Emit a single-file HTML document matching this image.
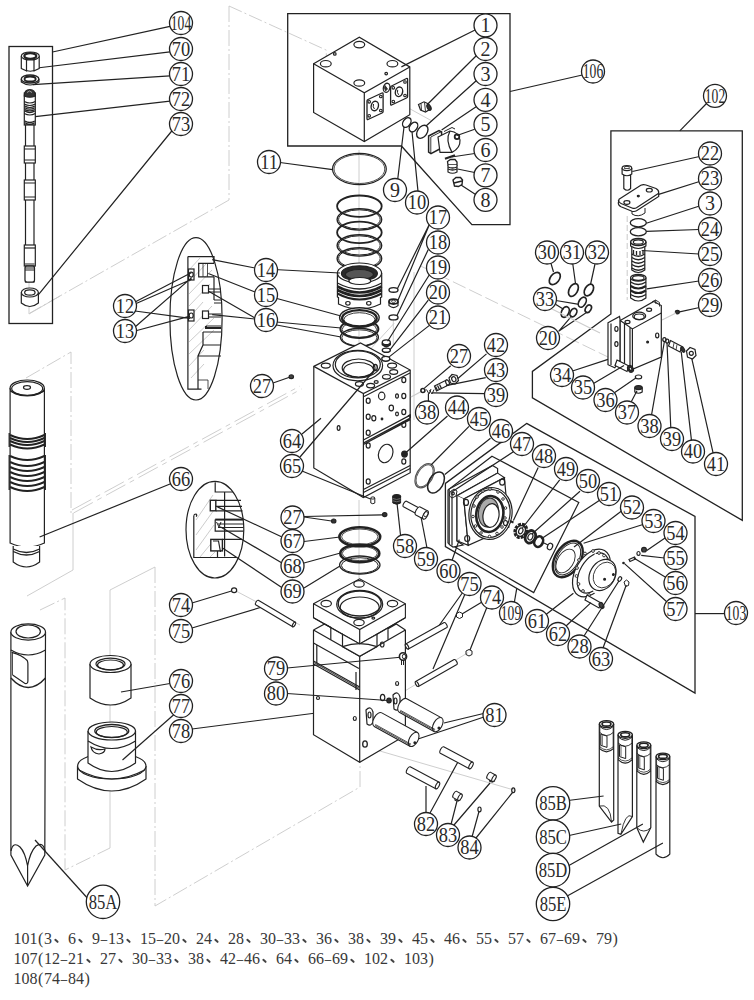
<!DOCTYPE html>
<html><head><meta charset="utf-8"><style>
html,body{margin:0;padding:0;background:#fff;width:754px;height:1000px;overflow:hidden}
svg{position:absolute;left:0;top:0}
#w{position:absolute;left:0;top:0;width:754px;height:1000px}
.t{position:absolute;left:13.5px;font-family:"Liberation Serif",serif;font-size:16px;color:#383838;white-space:pre;line-height:20px}
.c{display:inline-block;width:16px;height:10px;position:relative}
.h{display:inline-block;width:8px;text-align:center;font-style:normal;transform:scaleX(0.8)}
.p{display:inline-block;width:6.5px;text-align:center;font-style:normal}
.c:after{content:"";position:absolute;left:2.2px;top:6.3px;width:5.4px;height:1.7px;border-radius:1px;background:#444;transform:rotate(42deg)}
</style></head><body><div id="w">
<svg width="754" height="1000" viewBox="0 0 754 1000">
<g fill="none" stroke="#c8c8c8" stroke-width="0.9">
<!-- top-left construction -->
<path d="M229,6 L326.3,50.1 L326.3,59" stroke-dasharray="14,3,2,3"/>
<path d="M394,100 L432,121"/>
<path d="M229,6 L229,200" stroke-dasharray="16,3,2,3"/>
<path d="M229,200 L30,313" stroke-dasharray="16,3,2,3"/>
<path d="M29,282 L29,314 L60,296"/>
<!-- piston outline -->
<path d="M26,378 L71,352 L71,513" stroke-dasharray="16,3,2,3"/>
<path d="M73,513 L73,570 L27,596" />
<path d="M72,510 L300,386" stroke-dasharray="22,5,5,5"/>
<path d="M73.5,513 L301.5,389" stroke-dasharray="22,5,5,5"/>
<!-- chisel outlines -->
<path d="M40,610 L65,598 L65,870 L110,848" stroke-dasharray="16,3,2,3"/>
<path d="M110,848 L110,590 L155,567" />
<path d="M155,567 L155,906 L360,787 L360,741" stroke-dasharray="16,3,2,3"/>
<!-- central axis -->
<path d="M359,150 L359,345"/>
<path d="M359,500 L359,580"/>
<path d="M405,690.9 L468.2,652.5"/>
<path d="M366.8,747.2 L515.6,790.5"/>
<path d="M236,591 L300,625"/>
<path d="M420.6,266 L608,357" stroke-dasharray="14,4"/>
<path d="M414,272 L414,420"/>
<path d="M393.3,320 L393.3,345"/>
<path d="M370,349.6 L394.2,323.2"/>

</g>
<g fill="none" stroke="#222" stroke-width="1.2">
<!-- ===== Box 104 ===== -->
<rect x="9" y="46.5" width="43.5" height="277" stroke-width="1.3"/>
<path d="M52.5,52 L170,26.4 M33,68.5 L170,51.9 M33,84.7 L170,75.8 M33,116.8 L170,101.1 M34.4,299.6 L173,129.5"/>
<!-- nut 70 -->
<path d="M21.3,56 L21.3,68.5 Q30.3,74 39.2,68.5 L39.2,56" fill="#fff"/>
<ellipse cx="30.3" cy="56" rx="9" ry="4" fill="#fff"/>
<ellipse cx="30.3" cy="56" rx="6" ry="2.8" stroke-width="2.2"/>
<path d="M26.5,59.5 L26.5,71.5 M34,59.5 L34,71.5"/>
<!-- washer 71 -->
<path d="M21.3,79 L21.3,82 Q30.1,88 38.9,82 L38.9,79" fill="#fff"/>
<ellipse cx="30.1" cy="79" rx="8.8" ry="4" fill="#fff" stroke-width="1.4"/>
<ellipse cx="30.1" cy="79" rx="5.6" ry="2.5" stroke-width="1.8"/>
<!-- rod 72 -->
<rect x="24.3" y="93" width="11" height="32" fill="#fff"/>
<path d="M24.3,96 Q24.3,89.5 29.8,89.5 Q35.3,89.5 35.3,96 Q29.8,98.5 24.3,96 Z" fill="#333"/>
<path d="M27,92.5 L29.5,91 L32,92.5" stroke="#bbb" stroke-width="0.8"/>
<path d="M24.3,101.5 Q29.8,104.5 35.3,101.5 M24.3,104 Q29.8,107 35.3,104"/>
<path d="M24.8,106 Q29.8,109 34.8,106 M24.8,107.7 Q29.8,110.7 34.8,107.7 M24.8,109.4 Q29.8,112.4 34.8,109.4 M24.8,111.1 Q29.8,114.1 34.8,111.1" stroke-width="1.2"/>
<path d="M24.3,113.5 Q29.8,116.5 35.3,113.5"/>
<path d="M24.8,121 Q29.8,124 34.8,121 M24.8,122.8 Q29.8,125.8 34.8,122.8" stroke-width="1.3"/>
<rect x="25.5" y="125" width="8.5" height="157" fill="#fff"/>
<rect x="24.3" y="146" width="11" height="17" fill="#fff"/>
<path d="M24.3,149 h11 M24.3,160 h11"/>
<rect x="24.3" y="180" width="11" height="20" fill="#fff"/>
<path d="M24.3,183 h11 M24.3,197 h11"/>
<rect x="24.3" y="245" width="11" height="21" fill="#fff"/>
<path d="M24.3,248 h11"/>
<rect x="25" y="266" width="9.5" height="16" rx="2" fill="#fff"/>
<path d="M25,264 h9.5 M25,266 h9.5 M25,268 h9.5 M25,270 h9.5" stroke-width="1.2"/>
<!-- bushing 73 -->
<path d="M21.3,292.5 L21.3,303 Q29.85,310 38.4,303 L38.4,292.5" fill="#fff"/>
<ellipse cx="29.85" cy="292.5" rx="8.5" ry="4.5" fill="#fff"/>
<ellipse cx="29.85" cy="292.5" rx="5.2" ry="2.6"/>
<!-- ===== Box 106 ===== -->
<path d="M287.7,13.6 L510,13.6 L510,224.6 L471.9,224.6 L401.4,146 L287.7,146 Z" stroke-width="1.3"/>
<path d="M510,91.5 L582.3,75"/>
<!-- block 1 -->
<path d="M313.6,63.7 L359.3,37.2 L409.8,66.9 L409.8,114.7 L364.3,141.6 L313.6,112.4 Z" fill="#fff"/>
<path d="M313.6,63.7 L364.3,92.7 L409.8,66.9 M364.3,92.7 L364.3,141.6"/>
<ellipse cx="359.3" cy="44.6" rx="5.4" ry="3.2"/>
<ellipse cx="325.8" cy="63.7" rx="5.4" ry="3.2"/>
<ellipse cx="392.4" cy="63.7" rx="5.4" ry="3.2"/>
<ellipse cx="359.3" cy="83" rx="5.4" ry="3.2"/>
<circle cx="334.8" cy="53.9" r="1.3"/>
<circle cx="386.2" cy="73.6" r="1.3"/>
<path d="M368,99.5 L382,93 Q383.1,92.5 383.1,94 L383.1,111.5 Q383.1,112.5 382,113 L368,119.5 Q367,120 367,118.5 L367,101 Q367,100 368,99.5 Z" stroke-width="1.3"/>
<ellipse cx="374.8" cy="106" rx="3.6" ry="4.8" transform="rotate(15 374.8 106)" stroke-width="1.4"/>
<path d="M373.5,104 Q372.5,107 374.5,109" stroke-width="1"/>
<circle cx="369.2" cy="101.8" r="1.3" stroke-width="1.1"/><circle cx="380.8" cy="96.5" r="1.3" stroke-width="1.1"/><circle cx="369.2" cy="115.8" r="1.3" stroke-width="1.1"/><circle cx="380.8" cy="110.5" r="1.3" stroke-width="1.1"/>
<path d="M391.6,86 L406.5,78.5 Q407.6,78 407.6,79.5 L407.6,96.5 Q407.6,97.5 406.5,98 L391.6,105 Q390.6,105.5 390.6,104 L390.6,87.5 Q390.6,86.5 391.6,86 Z" stroke-width="1.3"/>
<ellipse cx="399" cy="91.8" rx="3.6" ry="4.8" transform="rotate(15 399 91.8)" stroke-width="1.4"/>
<path d="M397.7,89.8 Q396.7,92.8 398.7,94.8" stroke-width="1"/>
<circle cx="393.3" cy="87.8" r="1.3" stroke-width="1.1"/><circle cx="405" cy="82" r="1.3" stroke-width="1.1"/><circle cx="393.3" cy="101.5" r="1.3" stroke-width="1.1"/><circle cx="405" cy="95.5" r="1.3" stroke-width="1.1"/>
<ellipse cx="386.6" cy="87.8" rx="3.2" ry="4.6" transform="rotate(15 386.6 87.8)" stroke-width="1.3"/>
<path d="M385,85.5 Q383.8,88 385.5,91 L387.5,89 Z" fill="#333" stroke-width="0.8"/>
<path d="M401.4,66.9 L475,30"/>
<!-- part 2 plug -->
<path d="M418.5,104.5 L424,101.8 L428.5,104 L430.5,109 L425.5,112 L420.5,110 Z" fill="#fff" stroke-width="1.2"/>
<path d="M421,103.5 L421.5,110.5 M424.5,102.3 L425.5,111.5 M427.5,103.5 L428.5,110" stroke-width="0.9"/>
<ellipse cx="429" cy="107.3" rx="1.8" ry="3.2" transform="rotate(-25 429 107.3)" fill="#333"/>
<path d="M427.3,104.5 L477,55"/>
<!-- orings 9,10,3 -->
<ellipse cx="406.8" cy="122.5" rx="3.6" ry="5.3" transform="rotate(35 406.8 122.5)" stroke-width="1.4"/>
<ellipse cx="413.5" cy="127" rx="3.6" ry="5.3" transform="rotate(35 413.5 127)" stroke-width="1.4"/>
<ellipse cx="422.3" cy="131.8" rx="4.8" ry="7.2" transform="rotate(35 422.3 131.8)" stroke-width="1.4"/>
<path d="M397.6,180.3 L404,127 M418,191.4 L412,131.5 M426,126 L476.5,80.5"/>
<!-- part 4 valve -->
<path d="M428.6,136 L439,130.5 L441.6,132 L441.6,148 L431,153.6 L428.6,152 Z" fill="#fff" stroke-width="1.5"/>
<path d="M430.8,137 L430.8,153 M430.8,137 L441.6,131.5" stroke-width="0.9"/>
<path d="M438,137 L450,131 Q459,132 460,140 Q460.5,148 452,152.4 L440,152.4 Z" fill="#fff"/>
<path d="M450,131 Q445,140 452,152.4"/>
<path d="M444,131.5 L452,127.5 L455,129" stroke-width="1"/>
<circle cx="457" cy="136.8" r="2.3" fill="#fff" stroke-width="1.8"/>
<path d="M441.6,130 L476.5,106.5 M457,135.5 L474.7,129.2"/>
<!-- 6,7,8 -->
<path d="M445,158.8 L455,155.2" stroke-width="2.2"/>
<path d="M447.5,161.5 L450.5,159.5 L455,159.5 L457,162 L457,165 L448,165 Z" fill="#fff" stroke-width="1.3"/>
<path d="M448,165 L448,172 Q452.5,174.5 457,172 L457,165" fill="#fff" stroke-width="1.2"/>
<path d="M448,167 Q452.5,169 457,167 M448,169 Q452.5,171 457,169" stroke-width="1.3"/>
<path d="M453,180 L456,177.5 L460.5,177.5 L462.5,180 L462,184.5 L458.5,186.5 L454.5,186 Z" fill="#fff" stroke-width="1.4"/>
<path d="M454,183 L462,181" stroke-width="1.6"/>
<path d="M451.5,157 L474.7,153.5 M457.5,169 L474.7,172.5 M461,185 L475.6,194.5"/>
<!-- ===== central column ===== -->
<ellipse cx="359.4" cy="169" rx="26.9" ry="15.7" stroke-width="1.2"/>
<ellipse cx="359.4" cy="169" rx="25.4" ry="14.5" stroke-width="0.8"/>
<path d="M332.6,169.6 L280,162.5"/>
<!-- ring stack -->
<ellipse cx="359.4" cy="206.2" rx="22.3" ry="10.7" stroke-width="1.8"/>
<ellipse cx="359.4" cy="219.4" rx="22.3" ry="10.7" stroke-width="1.4"/>
<ellipse cx="359.4" cy="219.4" rx="20.8" ry="9.6" stroke-width="1"/>
<ellipse cx="359.4" cy="232.4" rx="22.3" ry="10.7" stroke-width="1.8"/>
<ellipse cx="359.4" cy="245.4" rx="22.3" ry="10.7" stroke-width="1.4"/>
<ellipse cx="359.4" cy="245.4" rx="20.8" ry="9.6" stroke-width="1"/>
<ellipse cx="359.4" cy="258.4" rx="22.3" ry="10.7" stroke-width="1.4"/>
<ellipse cx="359.4" cy="258.4" rx="20.8" ry="9.6" stroke-width="1"/>
<!-- seal pack 14 -->
<path d="M337.4,273 L337.4,297 Q359.5,309 381.7,297 L381.7,273" fill="#fff"/>
<path d="M338.5,297 L338.5,304 Q359.5,314 380.5,304 L380.5,297" fill="#fff"/>
<ellipse cx="359.5" cy="273" rx="22.1" ry="10" fill="#fff" stroke-width="1.2"/>
<ellipse cx="359.4" cy="273.4" rx="18" ry="7.6" fill="#2a2a2a" stroke-width="1.2"/>
<ellipse cx="359.4" cy="274.5" rx="14" ry="5" fill="#555" stroke="#222"/>
<ellipse cx="359.8" cy="281" rx="11" ry="3.5" fill="#fff"/>
<path d="M337.4,283 Q359.5,295 381.7,283" stroke-width="1.4"/>
<path d="M337.4,286.5 Q359.5,298.5 381.7,286.5" stroke-width="2.6"/>
<path d="M337.4,290 Q359.5,302 381.7,290" stroke-width="2.6"/>
<path d="M337.4,293.5 Q359.5,305.5 381.7,293.5" stroke-width="2"/>
<ellipse cx="347.9" cy="303.3" rx="2.2" ry="1.8"/>
<ellipse cx="368.8" cy="303.3" rx="2.2" ry="1.8"/>
<!-- rings 15,16 -->
<ellipse cx="359.4" cy="337.3" rx="19" ry="9" stroke-width="1.4"/>
<ellipse cx="359.4" cy="337.8" rx="17.6" ry="8" stroke-width="0.9"/>
<ellipse cx="359.4" cy="329" rx="19" ry="9" stroke-width="2"/>
<ellipse cx="359.4" cy="329.5" rx="17.2" ry="7.8" stroke-width="0.9"/>
<ellipse cx="359.4" cy="317.5" rx="19.8" ry="9.8" stroke-width="1.4" fill="#fff"/>
<ellipse cx="359.4" cy="318.3" rx="17.3" ry="8.2" stroke-width="2.4"/>
<ellipse cx="359.4" cy="319.5" rx="15.5" ry="6.8" stroke-width="0.9"/>
<!-- small 17,18,19 -->
<ellipse cx="393.5" cy="289.9" rx="4.5" ry="2.3" stroke-width="1.4"/>
<path d="M389,301.6 L389,305.6 Q393.5,309.5 398,305.6 L398,301.6" fill="#fff"/>
<ellipse cx="393.5" cy="301.6" rx="4.5" ry="2.4" fill="#fff" stroke-width="1.8"/>
<ellipse cx="393.5" cy="301.3" rx="2.2" ry="1.1" fill="#fff" stroke-width="0.8"/>
<ellipse cx="393.5" cy="317.4" rx="4.5" ry="2.5" stroke-width="1.4"/>
<!-- 20,21 small on top of block -->
<path d="M382.3,342.6 L382.3,344.8 Q386.3,348.5 390.3,344.8 L390.3,342.6" fill="#333" stroke-width="1.4"/>
<ellipse cx="386.3" cy="342.3" rx="4" ry="2.4" fill="#fff" stroke-width="1.3"/>
<ellipse cx="386.3" cy="350.2" rx="4" ry="2.1" stroke-width="1.4"/>
<!-- leaders 17-21 -->
<path d="M429.4,224.2 L397.5,288.6 M429.4,224.5 L398,300.3 M428.3,249.5 L397,315.6 M429.4,274.8 L387.6,341.2 M428.3,300.1 L389.9,349.8 M429.4,325.4 L388.5,357.4"/>
<!-- leaders 14,15,16 to parts -->
<path d="M255,268 L212.2,259.7 M255,268.5 L340,273 M255,292 L207.7,273.2 M255,292.5 L341,316 M255,318 L208.6,291.2 M255,319 L212.2,314.6 M255,320 L341,328 M255,321 L341,337"/>
<!-- ===== block 64 ===== -->
<path d="M313.8,366.4 L360.5,343 L410.2,370 L410.2,472.7 L363.4,497.5 L313.8,467.9 Z" fill="#fff"/>
<path d="M313.8,366.4 L363.4,393.6 L410.2,370 M363.4,393.6 L363.4,497.5 M364,396.5 L410,373"/>
<ellipse cx="357.8" cy="365.6" rx="24.8" ry="15.2" stroke-width="1.2"/>
<ellipse cx="357.8" cy="364.5" rx="22.5" ry="13.5"/>
<ellipse cx="358.6" cy="368" rx="16.4" ry="9"/>
<ellipse cx="358.6" cy="370" rx="15" ry="7.5"/>
<ellipse cx="325.8" cy="365.6" rx="4.5" ry="2.5"/>
<ellipse cx="392.1" cy="365.6" rx="4.5" ry="2.5"/>
<ellipse cx="393.7" cy="372" rx="4" ry="2.3"/>
<ellipse cx="386.5" cy="376.8" rx="4" ry="2.3"/>
<ellipse cx="370.6" cy="385.6" rx="4" ry="2.3"/>
<ellipse cx="359.4" cy="384" rx="4" ry="2.3"/>
<ellipse cx="376.2" cy="382" rx="2" ry="1.3"/>
<ellipse cx="375.3" cy="367.5" rx="2" ry="3" stroke-width="1.4"/>
<!-- right face -->
<path d="M363.4,440 L410.2,415.1 M363.4,443 L410.2,418.1 M363.4,444.5 L410.2,419.6" />
<path d="M363.4,489.5 L410.2,465.5 M363.4,492.5 L410.2,468.5" />
<path d="M408,416 L410.2,415.1 L410.2,418 " stroke-width="1.6"/>
<ellipse cx="368.2" cy="400.8" rx="2" ry="2.6"/>
<ellipse cx="381.7" cy="396" rx="3.2" ry="3.8"/>
<ellipse cx="391.3" cy="408" rx="2.2" ry="2.8"/>
<ellipse cx="368.2" cy="416.7" rx="2" ry="2.6"/>
<ellipse cx="373.8" cy="418.3" rx="2" ry="2.6"/>
<ellipse cx="368.2" cy="432.7" rx="2" ry="2.6"/>
<ellipse cx="403.8" cy="380" rx="2" ry="2.6"/>
<ellipse cx="397" cy="396" rx="1.4" ry="2.2"/>
<ellipse cx="403.8" cy="396" rx="2" ry="2.6"/>
<ellipse cx="397" cy="414" rx="1.4" ry="1.8"/>
<ellipse cx="403.8" cy="412" rx="2" ry="2.6"/>
<ellipse cx="403.8" cy="424.7" rx="2" ry="2.6"/>
<ellipse cx="368.2" cy="445.5" rx="2" ry="2.6"/>
<ellipse cx="368.2" cy="481.5" rx="2" ry="2.6"/>
<ellipse cx="403.8" cy="461.5" rx="2" ry="2.6"/>
<ellipse cx="385.7" cy="453.5" rx="7" ry="9.5" transform="rotate(20 385.7 453.5)"/>
<circle cx="382" cy="419" r="0.8" fill="#222"/>
<ellipse cx="338.6" cy="428" rx="1.4" ry="2.4"/>
<!-- leaders 64,65 -->
<path d="M321,418.3 L302,434 M375.3,369 L300,457 M302,471 L370.5,499"/>
<!-- 27 (left) -->
<path d="M273,383 L289.5,377.3"/>
<ellipse cx="291.3" cy="376.8" rx="2.2" ry="1.9" fill="#444"/>
<!-- ===== detail ellipse 1 (12-16) ===== -->
<ellipse cx="196" cy="318.8" rx="26.1" ry="81.2" stroke-width="1.2"/>
<g stroke-width="0.6" stroke="#aaa">
<path d="M189,270 L200,258 M189,282 L206,264 M189,294 L212,270 M189,306 L210,284 M189,318 L203,302 M189,330 L212,306 M189,342 L214,318 M189,354 L214,330 M189,366 L204,350 M191,378 L204,364"/>
</g>
<path d="M187.9,256.6 L214,256.6 L214,263.3 M187.9,256.6 L187.9,389.2 L201.5,389.2 M214,263.3 L198.7,263.3 L198.7,276.8 L214,276.8"/>
<path d="M203,263.3 L203,276.8 M207.5,263.3 L207.5,276.8" stroke-width="0.8"/>
<rect x="188.5" y="269" width="5.5" height="11" fill="#fff" stroke-width="1.2"/>
<ellipse cx="191.2" cy="274.5" rx="2" ry="2.5"/>
<rect x="188.5" y="310" width="5.5" height="11" fill="#fff" stroke-width="1.2"/>
<ellipse cx="191.2" cy="315.5" rx="2" ry="2.5"/>
<rect x="202.5" y="285.5" width="6" height="7.5" fill="#fff" stroke-width="1.2"/>
<rect x="202.5" y="311" width="6" height="7.5" fill="#fff" stroke-width="1.2"/>
<path d="M214,276.8 L214,300 M208.5,289 L221,289 M208.5,292 L221,292 M208.5,314 L221,314 M208.5,317 L221,317 M214,300 L221,300 M214,303 L221,303 M206,326 L221,326 M203,332 L221,332 M203,332 L203,345 L198,356 L198,389 M203,345 L221,345 M198,356 L221,356"/>
<path d="M206,326 L206,328 L221,328" stroke-width="2"/>
<path d="M198,380 L208,380 L208,389" stroke-width="0.8"/>
<!-- leaders 12,13 -->
<path d="M135,302 L191.7,272.5 M135,304 L191.7,279.3 M135,311 L190,318.4 M135,327 L191.7,277.6 M135,331 L188.3,316.7"/>
<!-- ===== detail ellipse 2 (67-69) ===== -->
<ellipse cx="214.9" cy="529.7" rx="28.9" ry="48.3" stroke-width="1.2"/>
<g stroke-width="0.6" stroke="#aaa">
<path d="M196,520 L213,495 M196,535 L214,510 M196,550 L214,525 M200,557 L214,540 M210,557 L215,552"/>
</g>
<path d="M215.2,482.2 L215.2,492 L232.8,492 M224.6,492.6 L224.6,556.4 M193.8,515.7 L193.8,557.5 L236.1,557.5"/>
<path d="M193.8,515.7 Q194,514 196,514 Q197.5,515 196,516.5"/>
<rect x="210.3" y="500.3" width="5.5" height="10.5" fill="#fff" stroke-width="1.4"/>
<path d="M215.8,500.3 L241,500.3 M215.8,506.4 L242,506.4 M215.8,510.8 L242.5,510.8" />
<path d="M215.2,519.6 L243.3,519.6" stroke-width="2"/>
<path d="M215.2,519.6 L215.2,531.1 L243.5,531.1 M218,524 L243.5,524 M218,527.5 L243.5,527.5"/>
<path d="M216.5,522 L219,527 L221,522" stroke-width="1"/>
<rect x="210.8" y="539.4" width="11.6" height="11.5" stroke-width="1.4" fill="#fff"/>
<path d="M213,541 L218.5,541 L220.5,552 M222.4,539.4 L242,539.4 M217.5,551 L217.5,557" />
<path d="M217.4,506.9 L282,537 M220.2,526.7 L282,563 M222.9,548.2 L282.5,588"/>
<!-- ===== piston 66 ===== -->
<path d="M10.1,388 L10.1,543 Q27.2,551 44.4,543 L44.4,388" fill="#fff"/>
<ellipse cx="27.2" cy="388" rx="17.1" ry="8" fill="#fff"/>
<ellipse cx="27.2" cy="388.5" rx="15.5" ry="6.8"/>
<path d="M10.1,391 Q27.2,400 44.4,391"/>
<ellipse cx="27" cy="387.5" rx="3.5" ry="1.8"/>
<g stroke-width="2">
<path d="M10.1,435 Q27.2,443 44.4,435 M10.1,438 Q27.2,446 44.4,438 M10.1,441 Q27.2,449 44.4,441 M10.1,444.5 Q27.2,452.5 44.4,444.5"/>
<path d="M10.1,456 Q27.2,464 44.4,456 M10.1,462 Q27.2,470 44.4,462 M10.1,467 Q27.2,475 44.4,467 M10.1,472 Q27.2,480 44.4,472 M10.1,477 Q27.2,485 44.4,477 M10.1,482 Q27.2,490 44.4,482 M10.1,487 Q27.2,495 44.4,487"/>
</g>
<path d="M9.2,433 L9.2,447 M45.3,433 L45.3,447 M9.2,455 L9.2,490 M45.3,455 L45.3,490" stroke-width="1.3"/>
<path d="M13.2,546 L13.2,562 Q26.4,572 39.6,562 L39.6,546" fill="#fff"/>
<path d="M13.2,549 Q26.4,556 39.6,549 M13.2,551.5 Q26.4,558.5 39.6,551.5" stroke-width="1.4"/>
<path d="M39.6,537 L170,484"/>
<!-- ===== chisel 85A ===== -->
<path d="M10.9,632 L10.9,855 L27.6,886 L44.8,855 L45.5,632" fill="#fff"/>
<ellipse cx="28.2" cy="632" rx="17.3" ry="8.1" fill="#fff" stroke-width="1.2"/>
<ellipse cx="28.2" cy="631.5" rx="12.2" ry="6.5"/>
<path d="M10.9,650 Q28.2,660 45.5,650" stroke-width="1.2"/>
<path d="M10.9,678 Q28.2,697 45.5,678" stroke-width="1.4"/>
<path d="M11.7,652.3 Q22,655 27.2,660.5 Q27.9,662 27.9,664 L27.9,681 Q27.9,684 25,683.5 L12.6,675" stroke-width="1.2"/>
<path d="M12.5,653 L12.5,675" stroke-width="0.8"/>
<path d="M11,851 Q13,841 20,847 Q25,852 27.6,866 Q30,852 36,846 Q43,841 45,851 M27.6,866 L27.6,885"/>
<path d="M35,840 L90,901"/>
<!-- 85A circle bigger handled separately -->
<!-- ===== bushing 76 ===== -->
<path d="M90,664 L90,698 Q110.5,712 131,698 L131,664" fill="#fff"/>
<ellipse cx="110.5" cy="664" rx="20.5" ry="8.5" fill="#fff"/>
<ellipse cx="110.5" cy="664" rx="14.5" ry="5.8" stroke-width="1.2"/>
<ellipse cx="110.5" cy="665" rx="13" ry="5"/>
<path d="M121,692 L170,683.5"/>
<!-- ===== bushing 77 ===== -->
<path d="M77.5,766 L77.5,779 Q111.8,803 146,779 L146,766" fill="#fff"/>
<ellipse cx="111.8" cy="766" rx="34.2" ry="13" fill="#fff"/>
<path d="M79,770 Q111.8,788 144.5,770"/>
<path d="M88,731 L88,763 Q111.8,780 135.5,763 L135.5,731" fill="#fff"/>
<ellipse cx="111.8" cy="731" rx="23.7" ry="9" fill="#fff"/>
<ellipse cx="111.8" cy="731" rx="17" ry="6.5" stroke-width="1.3"/>
<ellipse cx="111.8" cy="732" rx="15.5" ry="5.5"/>
<path d="M88,741 Q111.8,756 135.5,741"/>
<path d="M91,747 Q98,751 105,749 Q105,753 99,754 Q92,753 91,747 Z"/>
<path d="M122.5,760 L174,714.5"/>
<path d="M192,729 L320,712.5"/>
<!-- ===== rings 67,68,69 and small parts ===== -->
<ellipse cx="359.8" cy="536.8" rx="20.4" ry="9.5" stroke-width="2.6"/>
<ellipse cx="359.8" cy="536.8" rx="18.2" ry="7.8" stroke-width="0.8"/>
<ellipse cx="359.8" cy="553.4" rx="19.5" ry="8.8" stroke-width="2.6"/>
<ellipse cx="359.8" cy="553.4" rx="17.5" ry="7.2" stroke-width="0.8"/>
<ellipse cx="359.8" cy="565" rx="20.2" ry="9" stroke-width="1.3"/>
<ellipse cx="359.8" cy="565.5" rx="18.4" ry="7.8" stroke-width="1"/>
<path d="M340,537 L304,541.5 M340.5,553 L304,563 M340,566 L304,588"/>
<!-- 27 screws -->
<ellipse cx="333.7" cy="521" rx="2.2" ry="2" fill="#333"/>
<ellipse cx="384.7" cy="514.6" rx="2.2" ry="2" fill="#333"/>
<path d="M304,517 L331.5,521 M304,516.5 L382.5,514.8"/>
<!-- 58 spring, 59 bolt -->
<path d="M392.8,496.5 L392.8,503 Q396.7,505.5 400.6,503 L400.6,496.5" fill="#222" stroke-width="1"/>
<ellipse cx="396.7" cy="496.5" rx="3.9" ry="2" fill="#222"/>
<path d="M393,498.5 Q396.7,500.5 400.4,498.5 M393,500.8 Q396.7,502.8 400.4,500.8" stroke="#888" stroke-width="0.7"/>
<path d="M397,503 L400.5,535"/>
<!-- 60 leader etc later -->
<!-- ===== lower block 78 ===== -->
<!-- body -->
<path d="M313.5,617.7 L324.6,623.9 L313.5,630 L313.5,734.7 L359.7,762.2 L405.4,735.5 L405.4,630 L396.3,623.9 L405.4,617.7" fill="#fff" stroke="none"/>
<path d="M313.5,630 L313.5,734.7 L359.7,762.2 L405.4,735.5 L405.4,630"/>
<path d="M359.7,656.3 L359.7,762.2"/>
<path d="M313.5,630 L359.7,656.3 L405.4,630"/>
<!-- slab -->
<path d="M313.5,603.8 L359.7,578.8 L405.4,603.8 L405.4,617.7 L359.7,643.9 L313.5,617.7 Z" fill="#fff" stroke-width="1.1"/>
<path d="M313.5,603.8 L359.7,629.5 L405.4,603.8 M359.7,629.5 L359.7,643.9"/>
<ellipse cx="359.7" cy="604.3" rx="23" ry="13.9" stroke-width="1.2"/>
<ellipse cx="359.7" cy="603.5" rx="21.5" ry="12.5" stroke-width="1.4"/>
<ellipse cx="359.7" cy="607.5" rx="19.5" ry="10.5"/>
<ellipse cx="359" cy="583.9" rx="5.2" ry="3.2"/>
<ellipse cx="326.2" cy="603.6" rx="5.2" ry="3.2"/>
<ellipse cx="392.5" cy="603.6" rx="5.2" ry="3.2"/>
<ellipse cx="359" cy="622.5" rx="5.2" ry="3.2"/>
<ellipse cx="373.3" cy="618.1" rx="1.4" ry="1"/>
<!-- notches -->
<path d="M313.5,630 L324.6,623.9 L330.8,627.3 L330.8,639.7" />
<path d="M342.5,634.2 L342.5,646.6 L359.7,656.3 L377,646.6 L377,634.2 L359.7,643.9 Z" fill="#fff"/>
<path d="M342.5,646.6 Q359.7,640.5 377,646.6"/>
<path d="M405.4,630 L396.3,623.9 L388,628.7 L388,639.7"/>
<path d="M313.5,617.7 L342.5,634.2 M377,634.2 L405.4,617.7"/>
<!-- rail 79 -->
<path d="M313.5,643 L358.9,668.5 M316.8,644.8 L316.8,664"/>
<path d="M313.5,664 L359.7,690 M313.5,661 L359.7,687"/>
<path d="M314,662.5 L359.7,688.5" stroke-width="1.4" stroke="#555"/>
<path d="M356,672 L356,690"/>
<!-- holes on right face of lower body -->
<ellipse cx="382.2" cy="644.5" rx="1.8" ry="2.5"/>
<ellipse cx="397.1" cy="683.5" rx="1.5" ry="2"/>
<ellipse cx="382.6" cy="697.5" rx="2.2" ry="3.2"/>
<path d="M393,695 Q398,690 400,697 L400,707 Q398,712 394,709 Z"/>
<ellipse cx="395.5" cy="701" rx="1.5" ry="3"/>
<path d="M366,710 Q371,705 373,712 L373,722 Q371,727 367,724 Z"/>
<ellipse cx="369.5" cy="715" rx="1.5" ry="3"/>
<ellipse cx="354.8" cy="718.5" rx="1.5" ry="2"/>
<ellipse cx="365" cy="744" rx="2.3" ry="3.2" stroke-width="1.3"/>
<!-- 79, 80 -->
<path d="M287,668 L403,657 M287,693.5 L388,700.5"/>
<path d="M401.5,659 L401.5,665 M403.5,659 L403.5,665" stroke-width="1"/>
<ellipse cx="403" cy="656.5" rx="3.6" ry="3.8" fill="#fff" stroke-width="1.6"/>
<ellipse cx="404" cy="656.5" rx="1.6" ry="2.4" fill="#fff" stroke-width="1"/>
<circle cx="318" cy="698" r="1.5"/>
<ellipse cx="389" cy="700.5" rx="2.2" ry="2.4" fill="#333"/>
<!-- ===== 74/75 left ===== -->
<ellipse cx="234.1" cy="590.3" rx="2.6" ry="2.4" stroke-width="1.2"/>
<path d="M192,603 L231.5,591"/>
<path d="M192,628 L262,607"/>
<!-- ===== 82,83,84 ===== -->
<path d="M459,760 L430,813 M426,786 L426,813"/>
<path d="M455,795 L455,800 Q457.5,802 460,800 L460,795" fill="#fff"/>
<ellipse cx="457.5" cy="795" rx="2.5" ry="1.8"/>
<path d="M489.5,776 L489.5,781 Q492,783 494.5,781 L494.5,776" fill="#fff"/>
<ellipse cx="492" cy="776" rx="2.5" ry="1.8"/>
<path d="M457,801 L451,824.5 M490,783 L454,825"/>
<ellipse cx="479.5" cy="809.4" rx="1.6" ry="2.4" stroke-width="1.2"/>
<ellipse cx="513.3" cy="790.3" rx="1.6" ry="2.4" stroke-width="1.2"/>
<path d="M479,811.5 L472,837 M512.5,792.5 L476,838"/>
<!-- re-added leaders 81/75/74 right -->
<path d="M444,723 L483.5,713.5 M418,739 L484,717"/>
<path d="M438,627 L463,592 M433,669 L465,594"/>
<path d="M456.5,613.5 L459.5,612 L462.5,613.5 L462.5,617 L459.5,618.5 L456.5,617 Z" stroke-width="1"/>
<path d="M466,651 L469,649.5 L472,651 L472,654.5 L469,656 L466,654.5 Z" stroke-width="1"/>
<path d="M462,614 L482,602 M470,650 L487,607"/>
<!-- ===== Box 102 ===== -->
<path d="M610.9,130.9 L742.3,130.9 L742.3,520.4 L532.4,397.8 L532.4,371.4 L610.9,314 Z" stroke-width="1.3"/>
<path d="M679.8,130.9 L707,103"/>
<!-- ===== Box 103 ===== -->
<path d="M526.6,423.4 L695,516.5 L695,693.1 L445.4,546.6 L445.4,483.4 Z" stroke-width="1.3"/>
<path d="M695,613.6 L725.3,613.6"/>
<!-- ===== 102 contents ===== -->
<path d="M627.2,216 L627.2,300" stroke="#bbb" stroke-dasharray="6,3" stroke-width="0.8"/>
<!-- bolt 22 -->
<path d="M623.8,174.9 L623.8,188.5 Q627.2,192 630.6,188.5 L630.6,174.9" fill="#fff"/>
<path d="M622.1,168.1 L622.1,174 Q626.9,177.5 631.8,174 L631.8,168.1" fill="#fff"/>
<ellipse cx="626.9" cy="168.1" rx="4.8" ry="2.5" fill="#fff" stroke-width="1.2"/>
<path d="M625,166.5 L628.8,166.5 L629.5,168.5 L624.3,168.5 Z" stroke-width="0.8"/>
<path d="M632.3,171.5 L699.5,156.5"/>
<!-- plate 23 -->
<path d="M619,199.3 L640.8,185.3 Q643,184.3 646,185 L656,188.5 Q659,190 658.7,193 L658.7,196.5 L636.5,210.8 Q634.5,212 632,211.2 L621,206.7 Q618.3,205.5 618.3,203 Z" fill="#fff"/>
<path d="M618.3,200 Q618.5,202.5 621,203.5 L632,208 Q634.5,209 636.5,207.8 L658.7,193.2"/>
<ellipse cx="626.9" cy="202.5" rx="3" ry="1.8"/>
<ellipse cx="649.3" cy="190.2" rx="3" ry="1.8"/>
<ellipse cx="638.3" cy="196.1" rx="1" ry="0.7" fill="#222"/>
<path d="M632,211 L632,214 Q638,218 645,213 L645,208" stroke-width="1"/>
<path d="M658.7,194.4 L699.5,181.5"/>
<!-- rings 3, 24 -->
<ellipse cx="638.3" cy="222.8" rx="8" ry="4.1" stroke-width="1.3"/>
<ellipse cx="638.3" cy="231.8" rx="8" ry="4.1" stroke-width="1.3"/>
<path d="M646.3,223.3 L699.5,206 M646.3,231.3 L699,229.5"/>
<!-- part 25 -->
<path d="M631.8,246 L631.8,270 Q638.3,275 644.8,270 L644.8,246" fill="#fff"/>
<path d="M630.6,242 L630.6,246 Q638.3,251 645.9,246 L645.9,242" fill="#fff"/>
<ellipse cx="638.3" cy="242" rx="7.7" ry="3.5" fill="#fff" stroke-width="1.5"/>
<ellipse cx="638.3" cy="242" rx="5" ry="2.2" stroke-width="1.2"/>
<g stroke-width="1.3">
<path d="M631.8,254 Q638.3,258.5 644.8,254 M631.8,257.5 Q638.3,262 644.8,257.5 M631.8,261 Q638.3,265.5 644.8,261 M631.8,264.5 Q638.3,269 644.8,264.5 M631.8,268 Q638.3,272.5 644.8,268"/>
</g>
<path d="M633.5,250 L633.5,254 M636.5,251 L636.5,255 M640,251 L640,255 M643,250 L643,254" stroke-width="1.3"/>
<path d="M641.7,250.5 L699,254"/>
<!-- part 26 -->
<path d="M630.6,277.8 L630.6,298 Q638.3,304 645.9,298 L645.9,277.8" fill="#fff"/>
<ellipse cx="638.3" cy="277.8" rx="7.7" ry="3.3" fill="#fff" stroke-width="1.3"/>
<ellipse cx="638.3" cy="278" rx="5.8" ry="2.3"/>
<path d="M630.6,282 Q638.3,287 645.9,282" stroke-width="1.4"/>
<path d="M630.6,286 Q638.3,291 645.9,286 M630.6,290.5 Q638.3,295.5 645.9,290.5" stroke-width="2.2"/>
<path d="M630.6,294.5 Q638.3,299.5 645.9,294.5" stroke-width="1.3"/>
<path d="M646.8,288.8 L699,281"/>
<!-- 29 -->
<ellipse cx="677.4" cy="312.1" rx="2" ry="1.8" fill="#333"/>
<path d="M679.6,311.8 L699.5,307.5"/>
<path d="M662,320 L676,313" stroke="#ccc"/>
<!-- block 34 -->
<path d="M608,322.8 L619.5,316.5 L620.2,320.5 L620.2,360 L614.8,367.8 L608,364.7 Z" fill="#fff"/>
<path d="M611,323.5 L611,365"/>
<ellipse cx="616.4" cy="328.9" rx="1.6" ry="2.4"/>
<ellipse cx="616.4" cy="344.1" rx="1.6" ry="2.4"/>
<path d="M620.2,320.5 L653.7,301.4 L661.3,305.5 L661.3,357.1 L632.4,369.3 L620.2,362 Z" fill="#fff"/>
<path d="M620.2,320.5 L632.4,328.9 L661.3,312.9 M632.4,328.9 L632.4,369.3 M624.5,323 L624.5,364.5 M630,327 L630,368"/>
<path d="M652,302 L655.5,300 L656,304 M655.5,300 L659.5,302.5 L659.5,306.5" stroke-width="0.9"/>
<ellipse cx="639.2" cy="315.9" rx="6.5" ry="3.8" stroke-width="1.2"/>
<ellipse cx="639.2" cy="316.8" rx="5" ry="2.8"/>
<ellipse cx="627.5" cy="322" rx="2.5" ry="1.6"/>
<ellipse cx="649.1" cy="309.8" rx="2.5" ry="1.6"/>
<ellipse cx="657.2" cy="335.4" rx="1.6" ry="2.4"/>
<circle cx="647.6" cy="341.9" r="0.9" fill="#222"/>
<!-- bolt 35 -->
<path d="M617,360 L629,366 L627,371.5 L615,365.5 Z" fill="#fff"/>
<ellipse cx="630.5" cy="368.8" rx="2.6" ry="3.6" transform="rotate(-30 630.5 368.8)" fill="#333"/>
<ellipse cx="630.5" cy="368.8" rx="1.2" ry="1.8" transform="rotate(-30 630.5 368.8)" fill="#fff"/>
<!-- 36, 37 -->
<ellipse cx="638.5" cy="376.9" rx="3.2" ry="1.9" stroke-width="1.2"/>
<path d="M634.8,387.6 L634.8,392 Q638.5,394.5 642.2,392 L642.2,387.6" fill="#fff"/>
<ellipse cx="638.5" cy="387.6" rx="3.7" ry="2" fill="#333"/>
<!-- 38,39,40,41 -->
<ellipse cx="664.4" cy="339.6" rx="1.6" ry="2" stroke-width="1.3"/>
<ellipse cx="667.2" cy="341.1" rx="1.6" ry="2" stroke-width="1.3"/>
<path d="M670.5,340.5 L682,346.5 L680,352 L668.5,346 Z" fill="#fff"/>
<ellipse cx="682.8" cy="349.5" rx="1.5" ry="3" transform="rotate(-30 682.8 349.5)" fill="#333"/>
<path d="M674,343 L673,348 M677,344.5 L676,350" stroke-width="0.8"/>
<path d="M686.5,351 L690,347.5 L695,349.5 L696,355.5 L692.5,359 L687.5,357 Z" fill="#fff" stroke-width="1.2"/>
<circle cx="691.3" cy="353.3" r="2" />
<!-- leaders -->
<path d="M608,359.4 L572.5,371 M624,365.5 L593.5,383.5 M636.2,377.7 L614,393 M637,390.7 L631,402.3"/>
<path d="M664.4,341.5 L651.5,415.2 M667,343 L670.8,428 M681.2,351.5 L691.5,440.6 M691.8,358.6 L713.2,453.4"/>
<!-- rings 30-33, 20 -->
<g stroke-width="1.7">
<ellipse cx="554.8" cy="278.5" rx="4.4" ry="7" transform="rotate(38 554.8 278.5)"/>
<ellipse cx="573.4" cy="290" rx="4.2" ry="6.8" transform="rotate(30 573.4 290)"/>
<ellipse cx="588.9" cy="290" rx="4" ry="6.4" transform="rotate(30 588.9 290)"/>
<ellipse cx="582.3" cy="302.2" rx="3.4" ry="5.4" transform="rotate(30 582.3 302.2)"/>
<ellipse cx="565.2" cy="312" rx="3.6" ry="5.6" transform="rotate(25 565.2 312)"/>
<ellipse cx="573.4" cy="312.6" rx="3.1" ry="4.5" transform="rotate(30 573.4 312.6)"/>
<ellipse cx="588.3" cy="308.8" rx="2.7" ry="4.1" transform="rotate(30 588.3 308.8)"/>
</g>
<path d="M551,263.5 L553.5,272 M572.8,264 L575.5,283.5 M595,264 L590.5,284.5"/>
<path d="M555.9,300.5 L579,304.4 M555.9,304.4 L563.5,309.3"/>
<path d="M558.6,331.3 L571.8,315.9 M558.6,331.3 L587.2,312"/>
<path d="M540,303 L600,333" stroke="#ccc"/>
<!-- ===== box 109 ===== -->
<path d="M492,456.2 L578.8,502.4 L533.7,592.6 L448,543 L448,490 Z" stroke-width="1.2"/>
<path d="M516.8,588.1 L514.4,602"/>
<!-- ===== part 60 flange ===== -->
<path d="M449.2,489 L492.5,465.5 L497.6,468.5 L497.6,473 L457,495.7 L457,541 L463,545 L453,547 L449.2,544.5 Z" fill="#fff"/>
<path d="M452,490.5 L452,545.5"/>
<path d="M450,492 L454,489 L457,491 L456,496 L452,498 L449.5,496 Z" stroke-width="1"/>
<circle cx="453" cy="493.5" r="1.3"/>
<path d="M457,495.7 L497.6,473.1 L504.4,477.6 L463.8,499 Z" fill="#fff"/>
<path d="M457,495.7 L457,540.8 L468.3,545.3 L463.8,499" fill="#fff"/>
<path d="M463.8,499 L504.4,477.6 L508.9,527.2 L468.3,545.3 Z" fill="#fff"/>
<ellipse cx="490.5" cy="513.5" rx="21.5" ry="26" transform="rotate(8 490.5 513.5)" fill="#fff"/>
<ellipse cx="490.5" cy="513.5" rx="19.5" ry="24" transform="rotate(8 490.5 513.5)"/>
<g fill="#fff" stroke-width="0.9">
<circle cx="490" cy="489" r="1.3"/><circle cx="498" cy="492" r="1.3"/><circle cx="503" cy="499" r="1.3"/><circle cx="505.5" cy="508" r="1.3"/><circle cx="505" cy="518" r="1.3"/><circle cx="502" cy="527" r="1.3"/><circle cx="497" cy="533.5" r="1.3"/><circle cx="489.5" cy="536.5" r="1.3"/><circle cx="481" cy="533" r="1.3"/><circle cx="475.5" cy="526" r="1.3"/><circle cx="473" cy="516.5" r="1.3"/><circle cx="474" cy="506" r="1.3"/><circle cx="477" cy="497" r="1.3"/><circle cx="483" cy="491" r="1.3"/>
</g>
<ellipse cx="489.8" cy="514" rx="13.5" ry="18" transform="rotate(8 489.8 514)" stroke-width="2.6"/>
<ellipse cx="488.5" cy="512.5" rx="10" ry="14.5" transform="rotate(8 488.5 512.5)" fill="#aaa" stroke="#333"/>
<ellipse cx="491" cy="515.5" rx="8" ry="12" transform="rotate(8 491 515.5)" fill="#fff"/>
<ellipse cx="466" cy="502.4" rx="2.5" ry="3"/>
<ellipse cx="502.2" cy="482.2" rx="2.5" ry="3"/>
<ellipse cx="467.2" cy="538.5" rx="2.5" ry="3"/>
<ellipse cx="505.5" cy="523" rx="2" ry="2.5"/>
<path d="M459.3,539.6 L452,560.5"/>
<!-- seals 48-51 -->
<path d="M510,521 L513.5,522.5" stroke-width="2"/>
<ellipse cx="520.8" cy="530.9" rx="5.8" ry="7" transform="rotate(25 520.8 530.9)" stroke-width="2.8" stroke-dasharray="3,1"/>
<ellipse cx="520.8" cy="530.9" rx="4.5" ry="5.6" transform="rotate(25 520.8 530.9)" stroke-width="1.4"/>
<ellipse cx="520.8" cy="530.9" rx="2" ry="3" transform="rotate(25 520.8 530.9)" stroke-width="1.2"/>
<ellipse cx="530.4" cy="536.8" rx="5" ry="6.5" transform="rotate(25 530.4 536.8)" stroke-width="2.8"/>
<ellipse cx="530.4" cy="536.8" rx="2.3" ry="3.3" transform="rotate(25 530.4 536.8)" stroke-width="1.2"/>
<ellipse cx="538.7" cy="541.6" rx="4.2" ry="5.5" transform="rotate(25 538.7 541.6)" stroke-width="2.6"/>
<path d="M542,542 L551,546.5" stroke-width="1.1"/>
<ellipse cx="550" cy="546.5" rx="2.5" ry="3.3" transform="rotate(25 550 546.5)" fill="#fff"/>
<!-- leaders 44-51 -->
<path d="M513.4,451.7 L452.5,491.5 M538.2,467.5 L513.4,520.5 M559.7,479.9 L522.4,528 M580,491.2 L532,534 M600,500 L541,539"/>
<!-- ring 52 -->
<ellipse cx="567.8" cy="559" rx="12.5" ry="20" transform="rotate(32 567.8 559)" stroke-width="2.4" fill="#fff"/>
<ellipse cx="567.8" cy="559" rx="10.5" ry="17.5" transform="rotate(32 567.8 559)" stroke-width="1"/>
<ellipse cx="565.5" cy="561" rx="8" ry="13" transform="rotate(32 565.5 561)" stroke-width="0.9"/>
<path d="M574,547 L621.5,511"/>
<!-- cover 53 -->
<ellipse cx="591.5" cy="573" rx="16" ry="26" transform="rotate(30 591.5 573)" fill="#fff"/>
<ellipse cx="593" cy="573" rx="13" ry="22" transform="rotate(30 593 573)"/>
<g fill="#fff" stroke-width="0.9">
<circle cx="593" cy="551" r="1.4"/><circle cx="599" cy="553" r="1.4"/><circle cx="604" cy="555.5" r="1.4"/><circle cx="607.5" cy="560" r="1.4"/><circle cx="585" cy="553.5" r="1.4"/><circle cx="579" cy="560" r="1.4"/><circle cx="577" cy="568" r="1.4"/><circle cx="576.5" cy="576" r="1.4"/><circle cx="578.5" cy="584" r="1.4"/><circle cx="583" cy="591" r="1.4"/><circle cx="589" cy="595" r="1.4"/>
</g>
<path d="M595,553 L605,560 Q617,572 612,590 L598,597 Q588,588 590,570 Z" fill="#fff" stroke="none"/>
<ellipse cx="602.5" cy="575" rx="12.5" ry="16.5" transform="rotate(30 602.5 575)" fill="#fff"/>
<ellipse cx="604.5" cy="575" rx="10.5" ry="13.5" transform="rotate(30 604.5 575)" stroke-width="0.8"/>
<circle cx="604.6" cy="579.2" r="0.9" fill="#222"/><circle cx="613.4" cy="574.6" r="0.9" fill="#222"/>
<path d="M583.6,543.2 L643,524.5"/>
<!-- bolt 62 & small 28,63 -->
<path d="M587,595 L601,603 L599,608 L585,600 Z" fill="#fff"/>
<ellipse cx="601.5" cy="605.5" rx="2" ry="3.2" transform="rotate(-30 601.5 605.5)" fill="#444"/>
<ellipse cx="619.8" cy="579" rx="1.6" ry="2.4" transform="rotate(30 619.8 579)" stroke-width="1.2"/>
<path d="M624,582 L626.5,580 L629,582 L628.5,585.5 L625.5,586.5 Z" stroke-width="1"/>
<path d="M573.4,593.3 L546,614.5 M591,602.6 L566,626 M618.9,581 L584,636 M626.3,585 L603,648"/>
<!-- 54-57 -->
<ellipse cx="644" cy="549.7" rx="2.4" ry="2.3" fill="#444"/>
<ellipse cx="638.5" cy="553.4" rx="1.6" ry="1.9" stroke-width="1.2"/>
<path d="M629,559.5 L634.5,557 L635.5,559 L630,561.5 Z" stroke-width="1.2"/>
<circle cx="623.5" cy="563" r="0.7" fill="#222"/>
<path d="M646.8,550.6 L665,538 M641.2,555.3 L664.5,558 M633.8,558 L666,577.5 M624.5,563.6 L667,602"/>
<!-- 44,45,46 rings -->
<ellipse cx="424.6" cy="475.7" rx="8.1" ry="13.2" transform="rotate(30 424.6 475.7)" stroke-width="1.3" stroke="#555"/>
<ellipse cx="424.6" cy="475.7" rx="7" ry="12" transform="rotate(30 424.6 475.7)" stroke-width="0.9" stroke="#555"/>
<ellipse cx="436" cy="482.5" rx="7.1" ry="11.5" transform="rotate(30 436 482.5)" stroke-width="1.5"/>
<path d="M444.8,474.5 L490.5,438.2 M431,465 L469,426.3 M406,452.5 L447.5,416"/>
<ellipse cx="404.5" cy="454.1" rx="2.8" ry="3" fill="#222"/>
<!-- 27,38,39,42,43 -->
<path d="M411,397 L424,390" stroke="#ccc"/>
<circle cx="422.9" cy="390.5" r="2" fill="#fff" stroke-width="1.6"/>
<path d="M426.5,389.5 L429,394 L431,389 M429.5,390 L432,394 L434,389.5" stroke-width="1"/>
<path d="M434.5,386 L446.5,380 L448.5,385 L436.5,391 Z" fill="#fff"/>
<path d="M435.5,386.5 L437.5,390.5 M437.5,385.5 L439.5,389.5 M439.5,384.5 L441.5,388.5" stroke-width="1.3"/>
<ellipse cx="447.5" cy="382.5" rx="1.6" ry="2.7" transform="rotate(-25 447.5 382.5)" fill="#fff"/>
<path d="M449,378 L452,374.5 L457,375.5 L458.5,380.5 L455,384 L450.5,383 Z" fill="#fff" stroke-width="1.2"/>
<ellipse cx="453.8" cy="379.2" rx="2" ry="2.6" transform="rotate(-25 453.8 379.2)"/>
<path d="M424.4,388.1 L450.7,365.8 M457.9,378.5 L486.5,353.9 M446,385.7 L485.7,377.7 M432.4,392.9 L485,393.7 M428.4,393.7 L428.4,401.5"/>

<ellipse cx="385.8" cy="358.8" rx="4" ry="2.4" fill="#fff" stroke-width="1.4"/>
<path d="M370.8,498 L370.8,503 Q372.8,504.5 374.8,503 L374.8,498" fill="#fff" stroke-width="1"/>
<ellipse cx="372.8" cy="498" rx="2" ry="1.1" fill="#fff" stroke-width="1"/>
<path d="M292.67,626.73 L255.67,604.73 A1.17,2.60 30.7 0 1 258.33,600.27 L295.33,622.27 Z" fill="#fff" stroke-width="1.1" />
<ellipse cx="294.00" cy="624.50" rx="1.17" ry="2.60" transform="rotate(30.7 294.00 624.50)" fill="#fff" stroke-width="1.1"/>
<path d="M417.49,514.32 L403.49,506.82 A1.44,3.20 28.2 0 1 406.51,501.18 L420.51,508.68 Z" fill="#fff" stroke-width="1.1" />
<ellipse cx="419.00" cy="511.50" rx="1.44" ry="3.20" transform="rotate(28.2 419.00 511.50)" fill="#fff" stroke-width="1.1"/>
<path d="M423.34,519.06 L415.84,515.06 A2.07,4.60 28.1 0 1 420.16,506.94 L427.66,510.94 Z" fill="#fff" stroke-width="1.1" />
<ellipse cx="425.50" cy="515.00" rx="2.07" ry="4.60" transform="rotate(28.1 425.50 515.00)" fill="#fff" stroke-width="1.1"/>
<path d="M424.5,512.5 L426.5,511.5 L428,513.5 L427,516 L425,517 L423.5,515 Z" stroke-width="0.9"/>
<path d="M421,517 L427,548"/>
<path d="M405.63,644.06 L444.13,622.56 A1.26,2.80 150.8 0 1 446.87,627.44 L408.37,648.94 Z" fill="#fff" stroke-width="1.1" />
<ellipse cx="407.00" cy="646.50" rx="1.26" ry="2.80" transform="rotate(150.8 407.00 646.50)" fill="#fff" stroke-width="1.1"/>
<path d="M415.61,681.57 L454.11,659.57 A1.26,2.80 150.3 0 1 456.89,664.43 L418.39,686.43 Z" fill="#fff" stroke-width="1.1" />
<ellipse cx="417.00" cy="684.00" rx="1.26" ry="2.80" transform="rotate(150.3 417.00 684.00)" fill="#fff" stroke-width="1.1"/>
<path d="M434.03,731.53 L399.23,712.33 A4.29,7.80 28.9 0 1 406.77,698.67 L441.57,717.87 Z" fill="#fff" stroke-width="1.1" />
<ellipse cx="437.80" cy="724.70" rx="4.29" ry="7.80" transform="rotate(28.9 437.80 724.70)" fill="#fff" stroke-width="1.1"/>
<circle cx="438.93" cy="728.05" r="0.9" fill="#222"/>
<path d="M400.35,710.3 L435.15,729.5 M399.9,711.2 L434.7,730.4" stroke-width="0.8"/>
<path d="M409.93,746.23 L374.23,726.53 A4.29,7.80 28.9 0 1 381.77,712.87 L417.47,732.57 Z" fill="#fff" stroke-width="1.1" />
<ellipse cx="413.70" cy="739.40" rx="4.29" ry="7.80" transform="rotate(28.9 413.70 739.40)" fill="#fff" stroke-width="1.1"/>
<circle cx="414.83" cy="742.75" r="0.9" fill="#222"/>
<path d="M375.35,724.5 L411.05,744.2 M374.9,725.4 L410.6,745.1" stroke-width="0.8"/>
<path d="M469.30,768.67 L440.30,753.17 A1.62,3.60 28.1 0 1 443.70,746.83 L472.70,762.33 Z" fill="#fff" stroke-width="1.1" />
<ellipse cx="471.00" cy="765.50" rx="1.62" ry="3.60" transform="rotate(28.1 471.00 765.50)" fill="#fff" stroke-width="1.1"/>
<path d="M435.80,788.67 L406.80,773.17 A1.62,3.60 28.1 0 1 410.20,766.83 L439.20,782.33 Z" fill="#fff" stroke-width="1.1" />
<ellipse cx="437.50" cy="785.50" rx="1.62" ry="3.60" transform="rotate(28.1 437.50 785.50)" fill="#fff" stroke-width="1.1"/>
<path d="M458.24,800.44 L453.24,797.64 A1.62,3.60 29.2 0 1 456.76,791.36 L461.76,794.16 Z" fill="#fff" stroke-width="1.1" />
<ellipse cx="460.00" cy="797.30" rx="1.62" ry="3.60" transform="rotate(29.2 460.00 797.30)" fill="#fff" stroke-width="1.1"/>
<path d="M492.24,781.44 L487.24,778.64 A1.62,3.60 29.2 0 1 490.76,772.36 L495.76,775.16 Z" fill="#fff" stroke-width="1.1" />
<ellipse cx="494.00" cy="778.30" rx="1.62" ry="3.60" transform="rotate(29.2 494.00 778.30)" fill="#fff" stroke-width="1.1"/>
<path d="M599.3,724.1 L599.3,806 L611.54,822 L613.7,820 L613.7,724.1" fill="#fff"/>
<ellipse cx="606.5" cy="724.1" rx="7.2" ry="3.456" fill="#fff" stroke-width="1.3"/>
<ellipse cx="606.5" cy="724.1" rx="4.464" ry="2.0736" stroke-width="1.6"/>
<path d="M599.3,726.1 Q606.5,733.0120000000001 613.7,726.1" stroke-width="1"/>
<path d="M599.9,724.1 L599.9,748.4 M613.1,724.1 L613.1,748.4" stroke-width="0.7"/>
<path d="M599.3,732.1 Q606.5,739.0120000000001 613.7,732.1" stroke-width="0.9"/>
<path d="M599.3,748.4 Q606.5,755.312 613.7,748.4" stroke-width="1.2"/>
<path d="M599.3,746.4 Q606.5,753.312 613.7,746.4" stroke-width="0.8"/>
<path d="M600.8,734.1 L600.8,745.4 L607.0,747.4 L607.0,736.1 Z" stroke-width="1"/>
<path d="M602.3,735.1 L602.3,745.4" stroke-width="0.7"/>
<path d="M599.3,806 Q610.1,803 611.54,822" stroke-width="0.9"/>
<path d="M618.0,734.8 L618.0,833.3 L620.88,834.3 L632.4000000000001,816.5 L632.4000000000001,734.8" fill="#fff"/>
<ellipse cx="625.2" cy="734.8" rx="7.2" ry="3.456" fill="#fff" stroke-width="1.3"/>
<ellipse cx="625.2" cy="734.8" rx="4.464" ry="2.0736" stroke-width="1.6"/>
<path d="M618.0,736.8 Q625.2,743.712 632.4000000000001,736.8" stroke-width="1"/>
<path d="M618.6,734.8 L618.6,759.6 M631.8000000000001,734.8 L631.8000000000001,759.6" stroke-width="0.7"/>
<path d="M618.0,742.8 Q625.2,749.712 632.4000000000001,742.8" stroke-width="0.9"/>
<path d="M618.0,759.6 Q625.2,766.5120000000001 632.4000000000001,759.6" stroke-width="1.2"/>
<path d="M618.0,757.6 Q625.2,764.5120000000001 632.4000000000001,757.6" stroke-width="0.8"/>
<path d="M619.5,744.8 L619.5,756.6 L625.7,758.6 L625.7,746.8 Z" stroke-width="1"/>
<path d="M621.0,745.8 L621.0,756.6" stroke-width="0.7"/>
<path d="M620.88,834.3 Q625.2,811.5 632.4000000000001,816.5" stroke-width="0.9"/>
<path d="M636.8,745.2 L636.8,827.7 L643.3,842.1 L650.8,827.7 L650.8,745.2" fill="#fff"/>
<ellipse cx="643.8" cy="745.2" rx="7.0" ry="3.36" fill="#fff" stroke-width="1.3"/>
<ellipse cx="643.8" cy="745.2" rx="4.34" ry="2.016" stroke-width="1.6"/>
<path d="M636.8,747.2 Q643.8,753.9200000000001 650.8,747.2" stroke-width="1"/>
<path d="M637.4,745.2 L637.4,770.9 M650.1999999999999,745.2 L650.1999999999999,770.9" stroke-width="0.7"/>
<path d="M636.8,753.2 Q643.8,759.9200000000001 650.8,753.2" stroke-width="0.9"/>
<path d="M636.8,770.9 Q643.8,777.62 650.8,770.9" stroke-width="1.2"/>
<path d="M636.8,768.9 Q643.8,775.62 650.8,768.9" stroke-width="0.8"/>
<path d="M638.3,755.2 L638.3,767.9 L644.3,769.9 L644.3,757.2 Z" stroke-width="1"/>
<path d="M639.8,756.2 L639.8,767.9" stroke-width="0.7"/>
<path d="M636.8,827.7 Q643.8,834.4200000000001 650.8,827.7" stroke-width="0.9"/>
<path d="M656.0,756.4 L656.0,854.1 Q662.9,861.3864 669.8,854.1 L669.8,756.4" fill="#fff"/>
<ellipse cx="662.9" cy="756.4" rx="6.9" ry="3.312" fill="#fff" stroke-width="1.3"/>
<ellipse cx="662.9" cy="756.4" rx="4.2780000000000005" ry="1.9871999999999999" stroke-width="1.6"/>
<path d="M656.0,758.4 Q662.9,765.024 669.8,758.4" stroke-width="1"/>
<path d="M656.6,756.4 L656.6,781.3 M669.1999999999999,756.4 L669.1999999999999,781.3" stroke-width="0.7"/>
<path d="M656.0,764.4 Q662.9,771.024 669.8,764.4" stroke-width="0.9"/>
<path d="M656.0,781.3 Q662.9,787.924 669.8,781.3" stroke-width="1.2"/>
<path d="M656.0,779.3 Q662.9,785.924 669.8,779.3" stroke-width="0.8"/>
<path d="M657.5,766.4 L657.5,778.3 L663.4,780.3 L663.4,768.4 Z" stroke-width="1"/>
<path d="M659.0,767.4 L659.0,778.3" stroke-width="0.7"/>
<path d="M603.6,796 L560,801.5 M621.2,824 L560,837.5 M642.9,824 L560,870.5 M662.9,843 L560,900"/>
</g>
<g fill="#fff" stroke="#222" stroke-width="1.3">
<circle cx="181" cy="23" r="11.5"/>
<circle cx="181" cy="49" r="11.5"/>
<circle cx="181" cy="74" r="11.5"/>
<circle cx="181" cy="99" r="11.5"/>
<circle cx="181" cy="124" r="11.5"/>
<circle cx="269" cy="162" r="11.5"/>
<circle cx="125" cy="306" r="11.5"/>
<circle cx="125" cy="331" r="11.5"/>
<circle cx="266" cy="270" r="11.5"/>
<circle cx="266" cy="295" r="11.5"/>
<circle cx="266" cy="320" r="11.5"/>
<circle cx="262" cy="386" r="11.5"/>
<circle cx="292" cy="441" r="11.5"/>
<circle cx="292" cy="466" r="11.5"/>
<circle cx="181" cy="479" r="11.5"/>
<circle cx="292.5" cy="517.5" r="11.5"/>
<circle cx="292.5" cy="541" r="11.5"/>
<circle cx="292.5" cy="566" r="11.5"/>
<circle cx="292.5" cy="591.5" r="11.5"/>
<circle cx="181" cy="605" r="11.5"/>
<circle cx="181" cy="631" r="11.5"/>
<circle cx="181" cy="681" r="11.5"/>
<circle cx="181" cy="706" r="11.5"/>
<circle cx="181" cy="731" r="11.5"/>
<circle cx="276" cy="668.5" r="11.5"/>
<circle cx="276" cy="693.5" r="11.5"/>
<circle cx="103" cy="901.8" r="16.7"/>
<circle cx="485.5" cy="25.3" r="11.5"/>
<circle cx="485.5" cy="49" r="11.5"/>
<circle cx="485.5" cy="74" r="11.5"/>
<circle cx="485.5" cy="99.8" r="11.5"/>
<circle cx="485.5" cy="124.6" r="11.5"/>
<circle cx="485.5" cy="150" r="11.5"/>
<circle cx="485.5" cy="175.3" r="11.5"/>
<circle cx="485.5" cy="199.8" r="11.5"/>
<circle cx="593" cy="71.5" r="11.5"/>
<circle cx="715" cy="95.8" r="11.5"/>
<circle cx="395" cy="190" r="11.5"/>
<circle cx="417" cy="202.5" r="11.5"/>
<circle cx="438" cy="217.5" r="11.5"/>
<circle cx="438" cy="242.5" r="11.5"/>
<circle cx="438" cy="267.5" r="11.5"/>
<circle cx="438" cy="292.5" r="11.5"/>
<circle cx="438" cy="317.5" r="11.5"/>
<circle cx="710" cy="153.5" r="11.5"/>
<circle cx="710" cy="178.5" r="11.5"/>
<circle cx="710" cy="203.5" r="11.5"/>
<circle cx="710" cy="229" r="11.5"/>
<circle cx="710" cy="254" r="11.5"/>
<circle cx="710" cy="280" r="11.5"/>
<circle cx="710" cy="305" r="11.5"/>
<circle cx="547" cy="252.5" r="11.5"/>
<circle cx="572" cy="252.5" r="11.5"/>
<circle cx="597" cy="252.5" r="11.5"/>
<circle cx="545" cy="299" r="11.5"/>
<circle cx="548" cy="338" r="11.5"/>
<circle cx="562" cy="375" r="11.5"/>
<circle cx="583" cy="387.5" r="11.5"/>
<circle cx="605.5" cy="400" r="11.5"/>
<circle cx="627" cy="412.5" r="11.5"/>
<circle cx="649.5" cy="426" r="11.5"/>
<circle cx="672" cy="439" r="11.5"/>
<circle cx="693" cy="451.5" r="11.5"/>
<circle cx="716" cy="464" r="11.5"/>
<circle cx="459" cy="356" r="11.5"/>
<circle cx="496" cy="345" r="11.5"/>
<circle cx="496" cy="370" r="11.5"/>
<circle cx="496" cy="395" r="11.5"/>
<circle cx="427" cy="412.5" r="11.5"/>
<circle cx="457" cy="407.5" r="11.5"/>
<circle cx="479" cy="419" r="11.5"/>
<circle cx="501" cy="431" r="11.5"/>
<circle cx="522" cy="444" r="11.5"/>
<circle cx="544" cy="456" r="11.5"/>
<circle cx="566" cy="469" r="11.5"/>
<circle cx="588" cy="481" r="11.5"/>
<circle cx="609" cy="494" r="11.5"/>
<circle cx="632" cy="507.5" r="11.5"/>
<circle cx="653.5" cy="521" r="11.5"/>
<circle cx="675.5" cy="533" r="11.5"/>
<circle cx="675.5" cy="558" r="11.5"/>
<circle cx="675.5" cy="583" r="11.5"/>
<circle cx="675.5" cy="609" r="11.5"/>
<circle cx="736" cy="613" r="11.5"/>
<circle cx="405" cy="546" r="11.5"/>
<circle cx="426" cy="559" r="11.5"/>
<circle cx="448.5" cy="571" r="11.5"/>
<circle cx="511" cy="613" r="11.5"/>
<circle cx="537" cy="621" r="11.5"/>
<circle cx="558" cy="634" r="11.5"/>
<circle cx="579.5" cy="646.5" r="11.5"/>
<circle cx="601" cy="659" r="11.5"/>
<circle cx="469.5" cy="584" r="11.5"/>
<circle cx="492" cy="597.5" r="11.5"/>
<circle cx="494.5" cy="715" r="11.5"/>
<circle cx="426" cy="824" r="11.5"/>
<circle cx="448" cy="835" r="11.5"/>
<circle cx="469.5" cy="847.5" r="11.5"/>
<circle cx="553" cy="803.3" r="16.7"/>
<circle cx="553" cy="836.8" r="16.7"/>
<circle cx="553" cy="870.1" r="16.7"/>
<circle cx="553" cy="904" r="16.7"/>
</g>
<g font-family="Liberation Serif" font-size="20" fill="#2a2a2a" text-anchor="middle">
<text transform="translate(181 29.8) scale(0.68 1)">104</text>
<text transform="translate(181 55.8) scale(0.92 1)">70</text>
<text transform="translate(181 80.8) scale(0.92 1)">71</text>
<text transform="translate(181 105.8) scale(0.92 1)">72</text>
<text transform="translate(181 130.8) scale(0.92 1)">73</text>
<text transform="translate(269 168.8) scale(0.92 1)">11</text>
<text transform="translate(125 312.8) scale(0.92 1)">12</text>
<text transform="translate(125 337.8) scale(0.92 1)">13</text>
<text transform="translate(266 276.8) scale(0.92 1)">14</text>
<text transform="translate(266 301.8) scale(0.92 1)">15</text>
<text transform="translate(266 326.8) scale(0.92 1)">16</text>
<text transform="translate(262 392.8) scale(0.92 1)">27</text>
<text transform="translate(292 447.8) scale(0.92 1)">64</text>
<text transform="translate(292 472.8) scale(0.92 1)">65</text>
<text transform="translate(181 485.8) scale(0.92 1)">66</text>
<text transform="translate(292.5 524.3) scale(0.92 1)">27</text>
<text transform="translate(292.5 547.8) scale(0.92 1)">67</text>
<text transform="translate(292.5 572.8) scale(0.92 1)">68</text>
<text transform="translate(292.5 598.3) scale(0.92 1)">69</text>
<text transform="translate(181 611.8) scale(0.92 1)">74</text>
<text transform="translate(181 637.8) scale(0.92 1)">75</text>
<text transform="translate(181 687.8) scale(0.92 1)">76</text>
<text transform="translate(181 712.8) scale(0.92 1)">77</text>
<text transform="translate(181 737.8) scale(0.92 1)">78</text>
<text transform="translate(276 675.3) scale(0.92 1)">79</text>
<text transform="translate(276 700.3) scale(0.92 1)">80</text>
<text transform="translate(103 908.5999999999999) scale(0.83 1)">85A</text>
<text transform="translate(485.5 32.1) scale(1.0 1)">1</text>
<text transform="translate(485.5 55.8) scale(1.0 1)">2</text>
<text transform="translate(485.5 80.8) scale(1.0 1)">3</text>
<text transform="translate(485.5 106.6) scale(1.0 1)">4</text>
<text transform="translate(485.5 131.4) scale(1.0 1)">5</text>
<text transform="translate(485.5 156.8) scale(1.0 1)">6</text>
<text transform="translate(485.5 182.10000000000002) scale(1.0 1)">7</text>
<text transform="translate(485.5 206.60000000000002) scale(1.0 1)">8</text>
<text transform="translate(593 78.3) scale(0.68 1)">106</text>
<text transform="translate(715 102.6) scale(0.68 1)">102</text>
<text transform="translate(395 196.8) scale(1.0 1)">9</text>
<text transform="translate(417 209.3) scale(0.92 1)">10</text>
<text transform="translate(438 224.3) scale(0.92 1)">17</text>
<text transform="translate(438 249.3) scale(0.92 1)">18</text>
<text transform="translate(438 274.3) scale(0.92 1)">19</text>
<text transform="translate(438 299.3) scale(0.92 1)">20</text>
<text transform="translate(438 324.3) scale(0.92 1)">21</text>
<text transform="translate(710 160.3) scale(0.92 1)">22</text>
<text transform="translate(710 185.3) scale(0.92 1)">23</text>
<text transform="translate(710 210.3) scale(1.0 1)">3</text>
<text transform="translate(710 235.8) scale(0.92 1)">24</text>
<text transform="translate(710 260.8) scale(0.92 1)">25</text>
<text transform="translate(710 286.8) scale(0.92 1)">26</text>
<text transform="translate(710 311.8) scale(0.92 1)">29</text>
<text transform="translate(547 259.3) scale(0.92 1)">30</text>
<text transform="translate(572 259.3) scale(0.92 1)">31</text>
<text transform="translate(597 259.3) scale(0.92 1)">32</text>
<text transform="translate(545 305.8) scale(0.92 1)">33</text>
<text transform="translate(548 344.8) scale(0.92 1)">20</text>
<text transform="translate(562 381.8) scale(0.92 1)">34</text>
<text transform="translate(583 394.3) scale(0.92 1)">35</text>
<text transform="translate(605.5 406.8) scale(0.92 1)">36</text>
<text transform="translate(627 419.3) scale(0.92 1)">37</text>
<text transform="translate(649.5 432.8) scale(0.92 1)">38</text>
<text transform="translate(672 445.8) scale(0.92 1)">39</text>
<text transform="translate(693 458.3) scale(0.92 1)">40</text>
<text transform="translate(716 470.8) scale(0.92 1)">41</text>
<text transform="translate(459 362.8) scale(0.92 1)">27</text>
<text transform="translate(496 351.8) scale(0.92 1)">42</text>
<text transform="translate(496 376.8) scale(0.92 1)">43</text>
<text transform="translate(496 401.8) scale(0.92 1)">39</text>
<text transform="translate(427 419.3) scale(0.92 1)">38</text>
<text transform="translate(457 414.3) scale(0.92 1)">44</text>
<text transform="translate(479 425.8) scale(0.92 1)">45</text>
<text transform="translate(501 437.8) scale(0.92 1)">46</text>
<text transform="translate(522 450.8) scale(0.92 1)">47</text>
<text transform="translate(544 462.8) scale(0.92 1)">48</text>
<text transform="translate(566 475.8) scale(0.92 1)">49</text>
<text transform="translate(588 487.8) scale(0.92 1)">50</text>
<text transform="translate(609 500.8) scale(0.92 1)">51</text>
<text transform="translate(632 514.3) scale(0.92 1)">52</text>
<text transform="translate(653.5 527.8) scale(0.92 1)">53</text>
<text transform="translate(675.5 539.8) scale(0.92 1)">54</text>
<text transform="translate(675.5 564.8) scale(0.92 1)">55</text>
<text transform="translate(675.5 589.8) scale(0.92 1)">56</text>
<text transform="translate(675.5 615.8) scale(0.92 1)">57</text>
<text transform="translate(736 619.8) scale(0.68 1)">103</text>
<text transform="translate(405 552.8) scale(0.92 1)">58</text>
<text transform="translate(426 565.8) scale(0.92 1)">59</text>
<text transform="translate(448.5 577.8) scale(0.92 1)">60</text>
<text transform="translate(511 619.8) scale(0.68 1)">109</text>
<text transform="translate(537 627.8) scale(0.92 1)">61</text>
<text transform="translate(558 640.8) scale(0.92 1)">62</text>
<text transform="translate(579.5 653.3) scale(0.92 1)">28</text>
<text transform="translate(601 665.8) scale(0.92 1)">63</text>
<text transform="translate(469.5 590.8) scale(0.92 1)">75</text>
<text transform="translate(492 604.3) scale(0.92 1)">74</text>
<text transform="translate(494.5 721.8) scale(0.92 1)">81</text>
<text transform="translate(426 830.8) scale(0.92 1)">82</text>
<text transform="translate(448 841.8) scale(0.92 1)">83</text>
<text transform="translate(469.5 854.3) scale(0.92 1)">84</text>
<text transform="translate(553 810.0999999999999) scale(0.83 1)">85B</text>
<text transform="translate(553 843.5999999999999) scale(0.83 1)">85C</text>
<text transform="translate(553 876.9) scale(0.83 1)">85D</text>
<text transform="translate(553 910.8) scale(0.83 1)">85E</text>
</g>
</svg>
<div class="t" style="top:929px">101<i class="p">(</i>3<i class="c"></i>6<i class="c"></i>9<i class="h">–</i>13<i class="c"></i>15<i class="h">–</i>20<i class="c"></i>24<i class="c"></i>28<i class="c"></i>30<i class="h">–</i>33<i class="c"></i>36<i class="c"></i>38<i class="c"></i>39<i class="c"></i>45<i class="c"></i>46<i class="c"></i>55<i class="c"></i>57<i class="c"></i>67<i class="h">–</i>69<i class="c"></i>79<i class="p">)</i></div>
<div class="t" style="top:949px">107<i class="p">(</i>12<i class="h">–</i>21<i class="c"></i>27<i class="c"></i>30<i class="h">–</i>33<i class="c"></i>38<i class="c"></i>42<i class="h">–</i>46<i class="c"></i>64<i class="c"></i>66<i class="h">–</i>69<i class="c"></i>102<i class="c"></i>103<i class="p">)</i></div>
<div class="t" style="top:969px">108<i class="p">(</i>74<i class="h">–</i>84<i class="p">)</i></div>
</div></body></html>
